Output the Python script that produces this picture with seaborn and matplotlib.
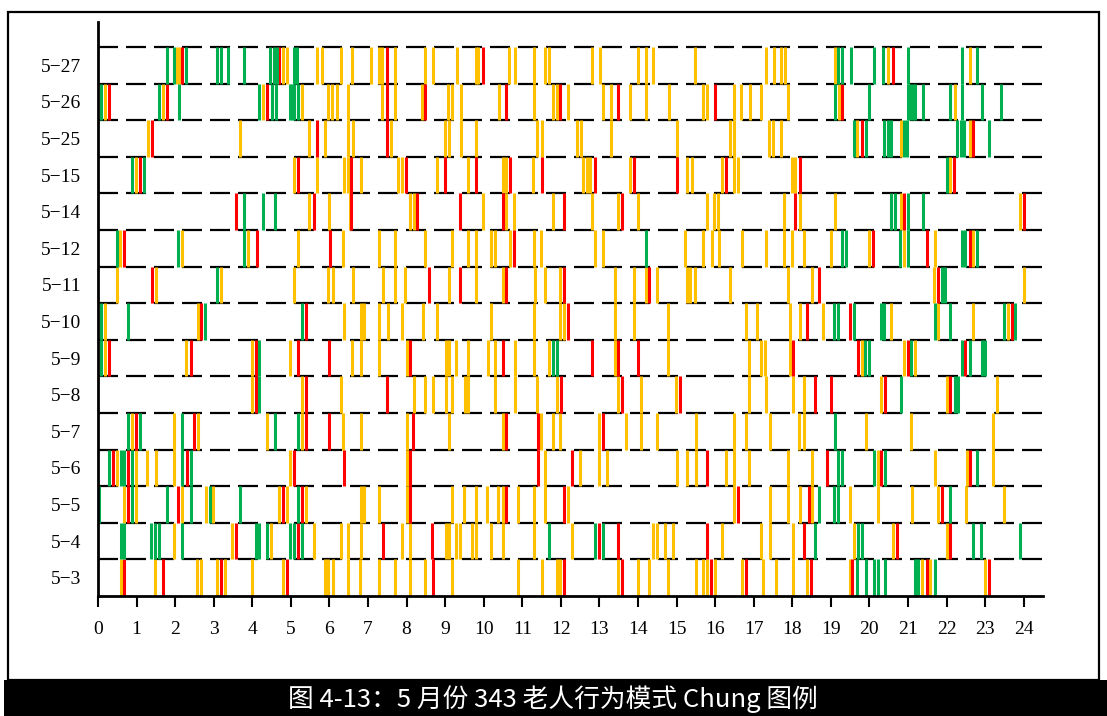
import matplotlib
matplotlib.use("Agg")
import matplotlib.pyplot as plt
from matplotlib.patches import Rectangle
import pandas as pd
import seaborn as sns

# ---- data: event times (hour of day) and type code per day ----
days = ["5-3", "5-4", "5-5", "5-6", "5-7", "5-8", "5-9", "5-10",
        "5-11", "5-12", "5-14", "5-15", "5-25", "5-26", "5-27"]

d5_27 = [(1.80,'G'),(1.97,'G'),(2.05,'Y'),(2.12,'Y'),(2.19,'R'),(2.29,'G'),(3.08,'G'),(3.20,'G'),
         (3.38,'G'),(3.78,'G'),(4.47,'G'),(4.56,'G'),(4.64,'G'),(4.70,'R'),(4.80,'Y'),(4.90,'Y'),
         (5.08,'G'),(5.17,'G'),(5.69,'Y'),(5.80,'Y'),(6.30,'Y'),(6.59,'Y'),(7.08,'Y'),(7.28,'Y'),
         (7.37,'Y'),(7.49,'R'),(7.70,'Y'),(8.48,'Y'),(8.69,'Y'),(9.30,'Y'),(9.79,'Y'),(9.86,'Y'),
         (9.99,'R'),(10.66,'Y'),(10.81,'Y'),(11.30,'Y'),(11.59,'Y'),(11.70,'Y'),(12.80,'Y'),(13.01,'Y'),
         (13.99,'Y'),(14.20,'Y'),(14.39,'Y'),(15.49,'Y'),(17.31,'Y'),(17.52,'Y'),(17.70,'Y'),(17.81,'Y'),
         (19.10,'Y'),(19.19,'G'),(19.30,'G'),(19.51,'G'),(20.11,'G'),(20.34,'G'),(20.49,'Y'),(20.60,'R'),
         (20.99,'G'),(22.40,'G'),(22.60,'Y'),(22.79,'G')]

d5_26 = [(0.07,'G'),(0.18,'Y'),(0.285,'R'),(1.59,'G'),(1.69,'Y'),(1.80,'R'),(2.10,'G'),(4.18,'G'),
         (4.29,'Y'),(4.39,'R'),(4.50,'G'),(4.61,'G'),(4.98,'G'),(5.04,'G'),(5.09,'G'),(5.18,'G'),
         (5.30,'Y'),(5.95,'Y'),(6.07,'Y'),(6.19,'Y'),(6.49,'Y'),(7.37,'Y'),(7.49,'R'),(7.70,'Y'),
         (8.41,'Y'),(8.49,'R'),(9.08,'Y'),(9.19,'Y'),(9.40,'Y'),(10.40,'Y'),(10.59,'R'),(11.30,'Y'),
         (11.80,'Y'),(11.89,'Y'),(11.99,'R'),(12.19,'Y'),(13.10,'Y'),(13.30,'Y'),(13.49,'R'),(13.79,'Y'),
         (14.20,'Y'),(14.81,'Y'),(15.69,'Y'),(15.80,'Y'),(15.99,'R'),(16.49,'Y'),(16.68,'Y'),(16.90,'Y'),
         (17.20,'Y'),(17.89,'Y'),(19.10,'G'),(19.21,'Y'),(19.29,'R'),(19.99,'G'),(20.99,'G'),(21.06,'G'),
         (21.13,'G'),(21.19,'G'),(21.39,'G'),(22.10,'G'),(22.21,'Y'),(22.40,'G'),(22.91,'G'),(23.40,'G')]

d5_25 = [(1.29,'Y'),(1.39,'R'),(3.68,'Y'),(5.48,'Y'),(5.69,'R'),(5.88,'Y'),(6.49,'Y'),(6.60,'Y'),
         (7.49,'R'),(7.59,'Y'),(8.99,'Y'),(9.11,'Y'),(9.40,'Y'),(9.80,'Y'),(11.39,'Y'),(11.50,'Y'),
         (12.41,'Y'),(12.51,'Y'),(13.30,'Y'),(15.00,'Y'),(16.38,'Y'),(16.49,'Y'),(17.40,'Y'),(17.50,'Y'),
         (17.70,'Y'),(19.60,'G'),(19.69,'Y'),(19.80,'R'),(19.90,'G'),(20.38,'G'),(20.47,'G'),(20.57,'G'),
         (20.81,'Y'),(20.90,'G'),(20.98,'G'),(22.28,'G'),(22.37,'G'),(22.45,'G'),(22.60,'Y'),(22.69,'R'),
         (23.10,'G')]

d5_15 = [(0.89,'G'),(0.98,'Y'),(1.09,'R'),(1.19,'G'),(5.09,'Y'),(5.19,'R'),(5.69,'Y'),(6.38,'Y'),
         (6.47,'Y'),(6.57,'R'),(6.81,'Y'),(7.78,'Y'),(7.87,'Y'),(7.98,'R'),(8.80,'Y'),(8.99,'R'),
         (9.60,'Y'),(9.80,'R'),(10.49,'Y'),(10.59,'Y'),(10.68,'R'),(11.28,'Y'),(11.50,'R'),(12.58,'Y'),
         (12.67,'Y'),(12.75,'Y'),(12.88,'R'),(13.79,'Y'),(13.89,'R'),(15.00,'R'),(15.26,'Y'),(15.39,'Y'),
         (16.18,'Y'),(16.28,'R'),(16.49,'Y'),(16.60,'Y'),(17.98,'Y'),(18.08,'Y'),(18.20,'R'),(22.00,'G'),
         (22.10,'Y'),(22.19,'R')]

d5_14 = [(3.59,'R'),(3.79,'G'),(4.29,'G'),(4.59,'G'),(5.48,'Y'),(5.60,'R'),(5.99,'Y'),(6.53,'Y'),
         (6.57,'R'),(8.09,'Y'),(8.19,'Y'),(8.28,'R'),(9.38,'R'),(9.99,'Y'),(10.49,'R'),(10.59,'Y'),
         (10.78,'Y'),(11.80,'Y'),(12.09,'R'),(12.80,'Y'),(13.49,'Y'),(13.59,'R'),(14.00,'Y'),(15.80,'Y'),
         (15.97,'Y'),(16.08,'Y'),(17.79,'Y'),(18.08,'R'),(18.20,'Y'),(19.10,'Y'),(20.57,'G'),(20.67,'G'),
         (20.81,'Y'),(20.90,'R'),(20.99,'G'),(21.39,'G'),(23.90,'Y'),(24.00,'R')]

d5_12 = [(0.48,'G'),(0.57,'Y'),(0.68,'R'),(2.08,'G'),(2.19,'Y'),(3.79,'G'),(3.90,'Y'),(4.11,'R'),
         (5.19,'Y'),(6.01,'R'),(6.36,'Y'),(7.29,'Y'),(7.70,'Y'),(8.48,'Y'),(9.19,'Y'),(9.60,'Y'),
         (9.80,'Y'),(10.18,'Y'),(10.29,'Y'),(10.68,'Y'),(10.78,'R'),(11.30,'Y'),(11.48,'Y'),(12.88,'Y'),
         (13.08,'Y'),(14.20,'G'),(15.21,'Y'),(15.69,'Y'),(15.91,'Y'),(16.10,'Y'),(16.70,'Y'),(17.31,'Y'),
         (17.79,'Y'),(18.00,'Y'),(18.31,'Y'),(19.00,'Y'),(19.29,'G'),(19.40,'G'),(19.99,'Y'),(20.10,'R'),
         (20.79,'G'),(20.90,'Y'),(21.00,'G'),(21.50,'R'),(21.70,'Y'),(22.40,'G'),(22.47,'G'),(22.60,'R'),
         (22.69,'Y'),(22.80,'G')]

d5_11 = [(0.48,'Y'),(1.39,'R'),(1.50,'Y'),(3.08,'G'),(3.19,'Y'),(5.09,'Y'),(5.97,'Y'),(6.10,'Y'),
         (6.62,'Y'),(7.40,'Y'),(7.70,'Y'),(7.96,'Y'),(8.59,'R'),(9.10,'Y'),(9.38,'R'),(9.80,'Y'),
         (10.49,'Y'),(10.59,'R'),(11.33,'Y'),(11.59,'Y'),(11.99,'Y'),(12.09,'R'),(13.40,'Y'),(13.90,'Y'),
         (14.20,'Y'),(14.29,'R'),(14.48,'Y'),(15.26,'Y'),(15.36,'Y'),(15.49,'Y'),(16.38,'Y'),(17.89,'Y'),
         (18.50,'Y'),(18.70,'R'),(21.68,'Y'),(21.78,'R'),(21.87,'G'),(21.95,'G'),(24.01,'Y')]

d5_10 = [(0.07,'G'),(0.18,'Y'),(0.79,'G'),(2.58,'Y'),(2.67,'R'),(2.77,'G'),(5.28,'G'),(5.38,'R'),
         (6.38,'Y'),(6.82,'Y'),(6.90,'Y'),(7.28,'Y'),(7.51,'Y'),(7.87,'Y'),(8.43,'Y'),(8.80,'Y'),
         (10.20,'Y'),(11.30,'Y'),(11.99,'Y'),(12.07,'Y'),(12.19,'R'),(13.40,'Y'),(13.90,'Y'),(14.78,'Y'),
         (16.81,'Y'),(17.09,'Y'),(17.94,'Y'),(18.20,'Y'),(18.39,'R'),(18.80,'Y'),(19.09,'G'),(19.19,'G'),
         (19.49,'R'),(19.60,'G'),(20.30,'G'),(20.38,'G'),(20.57,'Y'),(21.70,'G'),(21.78,'Y'),(22.10,'G'),
         (22.69,'Y'),(23.49,'G'),(23.60,'Y'),(23.70,'R'),(23.77,'G')]

d5_9 = [(0.07,'G'),(0.18,'Y'),(0.285,'R'),(2.28,'Y'),(2.40,'R'),(3.98,'Y'),(4.09,'R'),(4.18,'G'),
        (4.99,'Y'),(5.19,'R'),(5.99,'R'),(6.59,'Y'),(6.82,'Y'),(7.29,'Y'),(8.00,'Y'),(8.09,'R'),
        (9.01,'Y'),(9.11,'Y'),(9.28,'Y'),(9.60,'Y'),(10.10,'Y'),(10.29,'Y'),(10.51,'R'),(10.81,'Y'),
        (11.30,'Y'),(11.70,'Y'),(11.79,'G'),(11.89,'G'),(12.80,'R'),(13.40,'Y'),(13.49,'R'),(13.99,'R'),
        (14.78,'Y'),(16.88,'Y'),(17.19,'Y'),(17.29,'Y'),(17.95,'Y'),(18.02,'R'),(19.71,'R'),(19.80,'Y'),
        (19.88,'G'),(19.99,'G'),(20.90,'Y'),(20.99,'R'),(21.07,'G'),(21.18,'Y'),(22.40,'G'),(22.49,'R'),
        (22.60,'G'),(22.91,'G'),(22.99,'G')]

d5_8 = [(3.98,'Y'),(4.09,'R'),(4.18,'G'),(5.28,'Y'),(5.38,'R'),(6.30,'Y'),(7.50,'R'),(8.19,'Y'),
        (8.48,'Y'),(8.69,'Y'),(9.01,'Y'),(9.19,'Y'),(9.51,'Y'),(9.60,'Y'),(10.29,'Y'),(10.81,'Y'),
        (11.37,'Y'),(11.89,'Y'),(12.00,'R'),(13.49,'Y'),(13.59,'R'),(14.09,'Y'),(14.98,'Y'),(15.09,'R'),
        (16.88,'Y'),(17.31,'Y'),(18.01,'Y'),(18.30,'Y'),(18.60,'R'),(19.00,'R'),(20.31,'Y'),(20.40,'R'),
        (20.81,'G'),(22.00,'Y'),(22.10,'R'),(22.21,'G'),(22.30,'G'),(23.31,'Y')]

d5_7 = [(0.79,'G'),(0.89,'Y'),(0.98,'R'),(1.09,'G'),(1.98,'Y'),(2.19,'G'),(2.49,'R'),(2.58,'Y'),
        (4.39,'Y'),(4.59,'G'),(5.19,'G'),(5.30,'Y'),(5.38,'R'),(5.99,'R'),(6.36,'Y'),(6.82,'Y'),
        (8.00,'Y'),(8.17,'R'),(9.11,'Y'),(10.49,'Y'),(10.59,'R'),(11.40,'R'),(11.48,'Y'),(11.80,'Y'),
        (11.99,'Y'),(12.99,'Y'),(13.08,'R'),(13.69,'Y'),(14.09,'Y'),(14.48,'Y'),(15.50,'Y'),(16.49,'Y'),
        (16.80,'Y'),(17.42,'Y'),(18.17,'Y'),(18.30,'Y'),(19.10,'G'),(19.90,'Y'),(21.09,'Y'),(23.21,'Y')]

d5_6 = [(0.285,'G'),(0.38,'R'),(0.48,'Y'),(0.59,'G'),(0.68,'G'),(0.79,'R'),(0.89,'G'),(0.98,'Y'),
        (1.28,'Y'),(1.50,'Y'),(1.98,'Y'),(2.19,'G'),(2.30,'R'),(2.40,'G'),(4.98,'Y'),(5.09,'R'),
        (6.38,'R'),(8.00,'Y'),(8.09,'R'),(11.40,'R'),(11.59,'Y'),(12.29,'R'),(12.49,'Y'),(12.99,'Y'),
        (13.19,'Y'),(15.00,'Y'),(15.28,'Y'),(15.50,'Y'),(15.80,'R'),(16.28,'Y'),(16.49,'Y'),(16.87,'Y'),
        (17.89,'Y'),(18.50,'Y'),(18.89,'R'),(19.19,'G'),(19.29,'G'),(20.11,'G'),(20.21,'Y'),(20.30,'R'),
        (20.40,'G'),(21.70,'Y'),(22.52,'Y'),(22.60,'R'),(22.79,'G'),(23.21,'Y')]

d5_5 = [(0.02,'G'),(0.68,'Y'),(0.79,'R'),(0.89,'G'),(0.98,'Y'),(1.80,'G'),(2.08,'R'),(2.19,'Y'),
        (2.40,'G'),(2.79,'Y'),(2.90,'G'),(2.99,'Y'),(3.68,'G'),(4.69,'Y'),(4.79,'R'),(4.89,'Y'),
        (5.19,'G'),(5.30,'R'),(5.38,'Y'),(6.82,'Y'),(6.90,'Y'),(7.29,'Y'),(8.00,'Y'),(8.09,'R'),
        (9.19,'Y'),(9.49,'Y'),(9.80,'Y'),(10.09,'Y'),(10.38,'Y'),(10.49,'Y'),(10.59,'R'),(10.89,'Y'),
        (11.30,'Y'),(11.59,'Y'),(12.09,'R'),(12.19,'Y'),(16.49,'Y'),(16.60,'R'),(17.42,'Y'),(17.89,'Y'),
        (18.20,'Y'),(18.43,'R'),(18.52,'Y'),(18.69,'G'),(19.09,'G'),(19.19,'G'),(19.49,'Y'),(20.21,'Y'),
        (21.11,'Y'),(21.78,'Y'),(21.88,'R'),(22.10,'G'),(22.50,'Y'),(23.49,'Y')]

d5_4 = [(0.59,'G'),(0.68,'G'),(1.37,'G'),(1.48,'G'),(1.58,'G'),(1.98,'Y'),(2.19,'G'),(3.48,'Y'),
        (3.58,'R'),(4.09,'G'),(4.18,'G'),(4.39,'G'),(4.48,'Y'),(4.99,'G'),(5.09,'G'),(5.19,'R'),
        (5.30,'G'),(5.60,'Y'),(6.30,'Y'),(6.49,'Y'),(6.82,'Y'),(7.40,'R'),(7.89,'Y'),(8.10,'Y'),
        (8.67,'R'),(9.01,'Y'),(9.11,'Y'),(9.28,'Y'),(9.38,'Y'),(9.69,'Y'),(9.80,'Y'),(10.19,'Y'),
        (10.49,'Y'),(11.30,'Y'),(11.70,'G'),(12.29,'Y'),(12.88,'G'),(12.99,'R'),(13.08,'G'),(13.49,'R'),
        (14.38,'Y'),(14.50,'Y'),(14.70,'Y'),(14.91,'Y'),(15.79,'R'),(16.19,'Y'),(17.19,'Y'),(17.42,'Y'),
        (18.01,'Y'),(18.30,'R'),(18.60,'G'),(19.60,'Y'),(19.71,'G'),(19.80,'G'),(20.60,'Y'),(20.71,'R'),
        (22.00,'Y'),(22.10,'R'),(22.69,'G'),(22.89,'G'),(23.90,'G')]

d5_3 = [(0.60,'Y'),(0.68,'R'),(1.48,'Y'),(1.69,'R'),(2.57,'Y'),(2.67,'Y'),(3.09,'Y'),(3.19,'R'),
        (3.29,'Y'),(4.00,'Y'),(4.79,'Y'),(4.89,'R'),(5.88,'Y'),(5.97,'Y'),(6.08,'Y'),(6.49,'Y'),
        (6.79,'Y'),(7.29,'Y'),(7.70,'Y'),(8.09,'Y'),(8.48,'Y'),(8.69,'R'),(9.19,'Y'),(10.89,'Y'),
        (11.50,'Y'),(11.89,'Y'),(11.99,'Y'),(12.09,'R'),(13.49,'Y'),(13.59,'R'),(14.00,'Y'),(14.29,'Y'),
        (14.78,'Y'),(15.50,'Y'),(15.69,'Y'),(15.78,'Y'),(15.88,'R'),(15.99,'Y'),(16.70,'Y'),(16.80,'R'),
        (17.25,'Y'),(17.59,'Y'),(18.01,'Y'),(18.39,'Y'),(18.48,'R'),(19.49,'Y'),(19.56,'R'),(19.69,'G'),
        (19.90,'G'),(20.11,'G'),(20.21,'G'),(20.40,'G'),(21.19,'G'),(21.26,'G'),(21.36,'Y'),(21.48,'R'),
        (21.58,'Y'),(21.70,'G'),(22.99,'Y'),(23.10,'R')]

rows = [d5_3, d5_4, d5_5, d5_6, d5_7, d5_8, d5_9, d5_10,
        d5_11, d5_12, d5_14, d5_15, d5_25, d5_26, d5_27]
hours = list(range(0, 25))
caption = "图 4-13：5 月份 343 老人行为模式 Chung 图例"

# ---- long-form table: each event is a vertical segment spanning its day band ----
recs = []
uid = 0
for i, events in enumerate(rows):
    for h, c in events:
        recs.append({"x": h, "y": i, "uid": uid, "kind": c})
        recs.append({"x": h, "y": i + 1, "uid": uid, "kind": c})
        uid += 1
df = pd.DataFrame(recs)

sns.set_theme(style="white")
plt.rcParams["font.family"] = ["Liberation Serif", "DejaVu Serif"]

W, H = 1107, 716
fig = plt.figure(figsize=(W / 100, H / 100), dpi=100)
fig.patch.set_facecolor("white")
ax = fig.add_axes([98 / W, (H - 596) / H, (1043 - 98) / W, (596 - 22) / H])

n = len(days)
ax.hlines(range(1, n + 1), 0, 24.5, colors="black", linewidth=1.6,
          linestyles=(0, (9, 3.6)), zorder=1)

pal = {"G": "#00B050", "Y": "#FFC000", "R": "#FF0000"}
sns.lineplot(data=df, x="x", y="y", units="uid", hue="kind", estimator=None,
             sort=False, palette=pal, linewidth=2.2, legend=False, ax=ax, zorder=2)
for ln in ax.lines:
    ln.set_solid_capstyle("butt")

ax.set_xlim(0, 24.5)
ax.set_ylim(0, n + 25 / 36.6)
ax.set_xticks(hours)
ax.set_xticklabels([str(h) for h in hours], fontsize=14)
ax.set_yticks([i + 0.5 for i in range(n)])
ax.set_yticklabels([d.replace("-", "\u2212") for d in days], fontsize=14)
ax.set_xlabel("")
ax.set_ylabel("")
ax.tick_params(axis="x", direction="out", length=8, width=1.5, pad=10, colors="black",
               bottom=True)
ax.tick_params(axis="y", length=0, pad=12, colors="black")
for s in ["top", "right"]:
    ax.spines[s].set_visible(False)
for s in ["left", "bottom"]:
    ax.spines[s].set_color("black")
    ax.spines[s].set_linewidth(2.0)
ax.set_facecolor("none")

# document frame and caption bar
fig.add_artist(Rectangle((8 / W, 36 / H), (1099 - 8) / W, (704 - 36) / H,
                         transform=fig.transFigure, fill=False, edgecolor="black",
                         linewidth=1.6))
fig.add_artist(Rectangle((4 / W, 0), 1 - 4 / W, 36 / H, transform=fig.transFigure,
                         facecolor="black", edgecolor="none"))
fig.text(553 / W, 17 / H, caption, color="white", fontsize=18.5, ha="center", va="center",
         family=["Noto Sans CJK SC", "DejaVu Sans"])

fig.savefig("out.png", dpi=100, facecolor="white")
